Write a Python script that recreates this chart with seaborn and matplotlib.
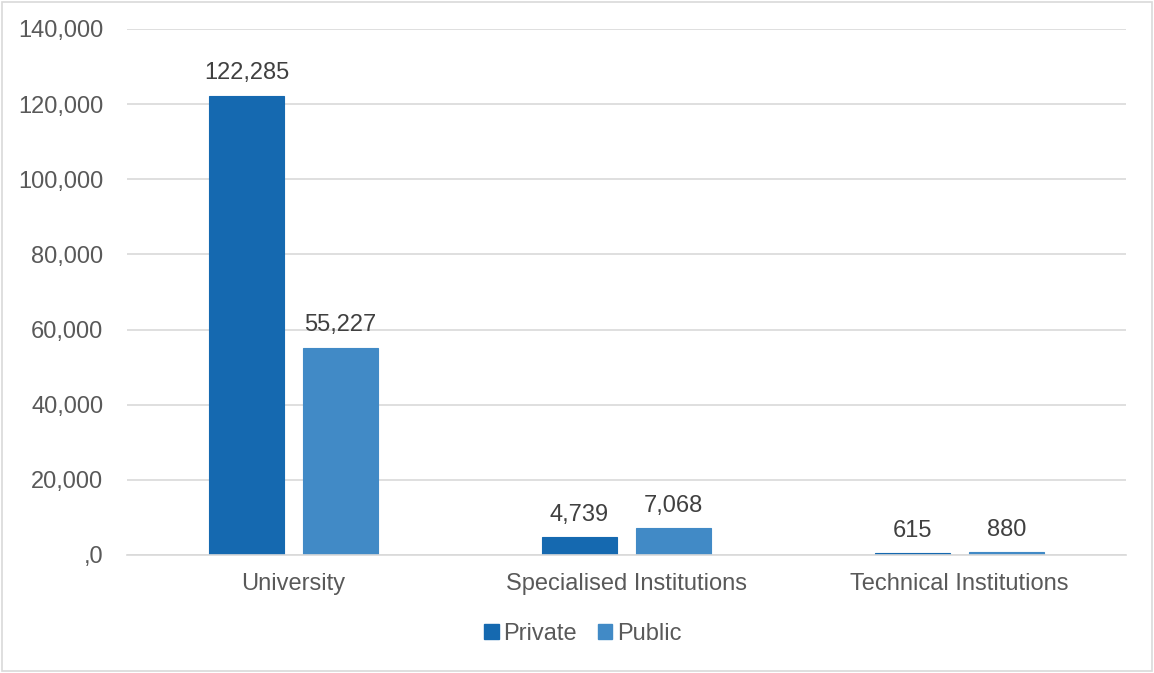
import matplotlib
matplotlib.use("Agg")
import matplotlib.pyplot as plt
import matplotlib.patches as mpatches
import seaborn as sns
import pandas as pd

# data
###############################################################################
categories = ['University', 'Specialised Institutions', 'Technical Institutions']
private = [122285, 4739, 615]
public = [55227, 7068, 880]
series = ['Private', 'Public']
yticks = [0, 20000, 40000, 60000, 80000, 100000, 120000, 140000]
ytick_labels = [',0', '20,000', '40,000', '60,000', '80,000', '100,000', '120,000', '140,000']

df = pd.DataFrame({
    'Type': categories * 2,
    'Sector': ['Private'] * 3 + ['Public'] * 3,
    'Count': private + public,
})

sns.set_theme(style='white')
plt.rcParams['font.family'] = ['Liberation Sans', 'DejaVu Sans']
colors = ['#1569B0', '#418AC6']

fig = plt.figure(figsize=(11.54, 6.73), dpi=100)
ax = fig.add_axes([127 / 1154, 1 - 555 / 673, (1126 - 127) / 1154, (555 - 29) / 673])

sns.barplot(data=df, x='Type', y='Count', hue='Sector', hue_order=series,
            order=categories, palette=colors, width=0.566, gap=0.21,
            saturation=1, ax=ax, legend=False)

# thin outline in the bar colour so the tiny bars stay visible
for cont, c in zip(ax.containers, colors):
    for bar in cont:
        bar.set_edgecolor(c)
        bar.set_linewidth(0.8)

ax.set_ylim(0, 140000)
ax.set_xlim(-0.5, 2.5)
ax.set_yticks(yticks)
ax.set_yticklabels(ytick_labels)
ax.yaxis.grid(True, color='#D9D9D9', linewidth=1.2)
ax.set_axisbelow(True)
for sp in ['top', 'right', 'left']:
    ax.spines[sp].set_visible(False)
ax.spines['bottom'].set_color('#D9D9D9')
ax.spines['bottom'].set_linewidth(1.2)
ax.tick_params(axis='both', length=0, labelsize=17, colors='#595959')
ax.tick_params(axis='x', pad=13)
ax.tick_params(axis='y', pad=17)
ax.set_xlabel('')
ax.set_ylabel('')

for cont in ax.containers:
    ax.bar_label(cont, labels=[f'{v:,.0f}' for v in cont.datavalues],
                 padding=8, fontsize=17, color='#404040')

handles = [mpatches.Patch(color=c, label=s) for c, s in zip(colors, series)]
fig.legend(handles=handles, loc='center', bbox_to_anchor=(583 / 1154, 1 - 634 / 673),
           ncol=2, frameon=False, fontsize=17, handlelength=0.6, handleheight=0.6,
           handletextpad=0.2, columnspacing=0.9, labelcolor='#595959')

fig.patches.append(mpatches.Rectangle((0.002, 0.003), 0.996, 0.994, transform=fig.transFigure,
                                      fill=False, edgecolor='#D9D9D9', linewidth=1.2))

fig.savefig('out.png', dpi=100)
